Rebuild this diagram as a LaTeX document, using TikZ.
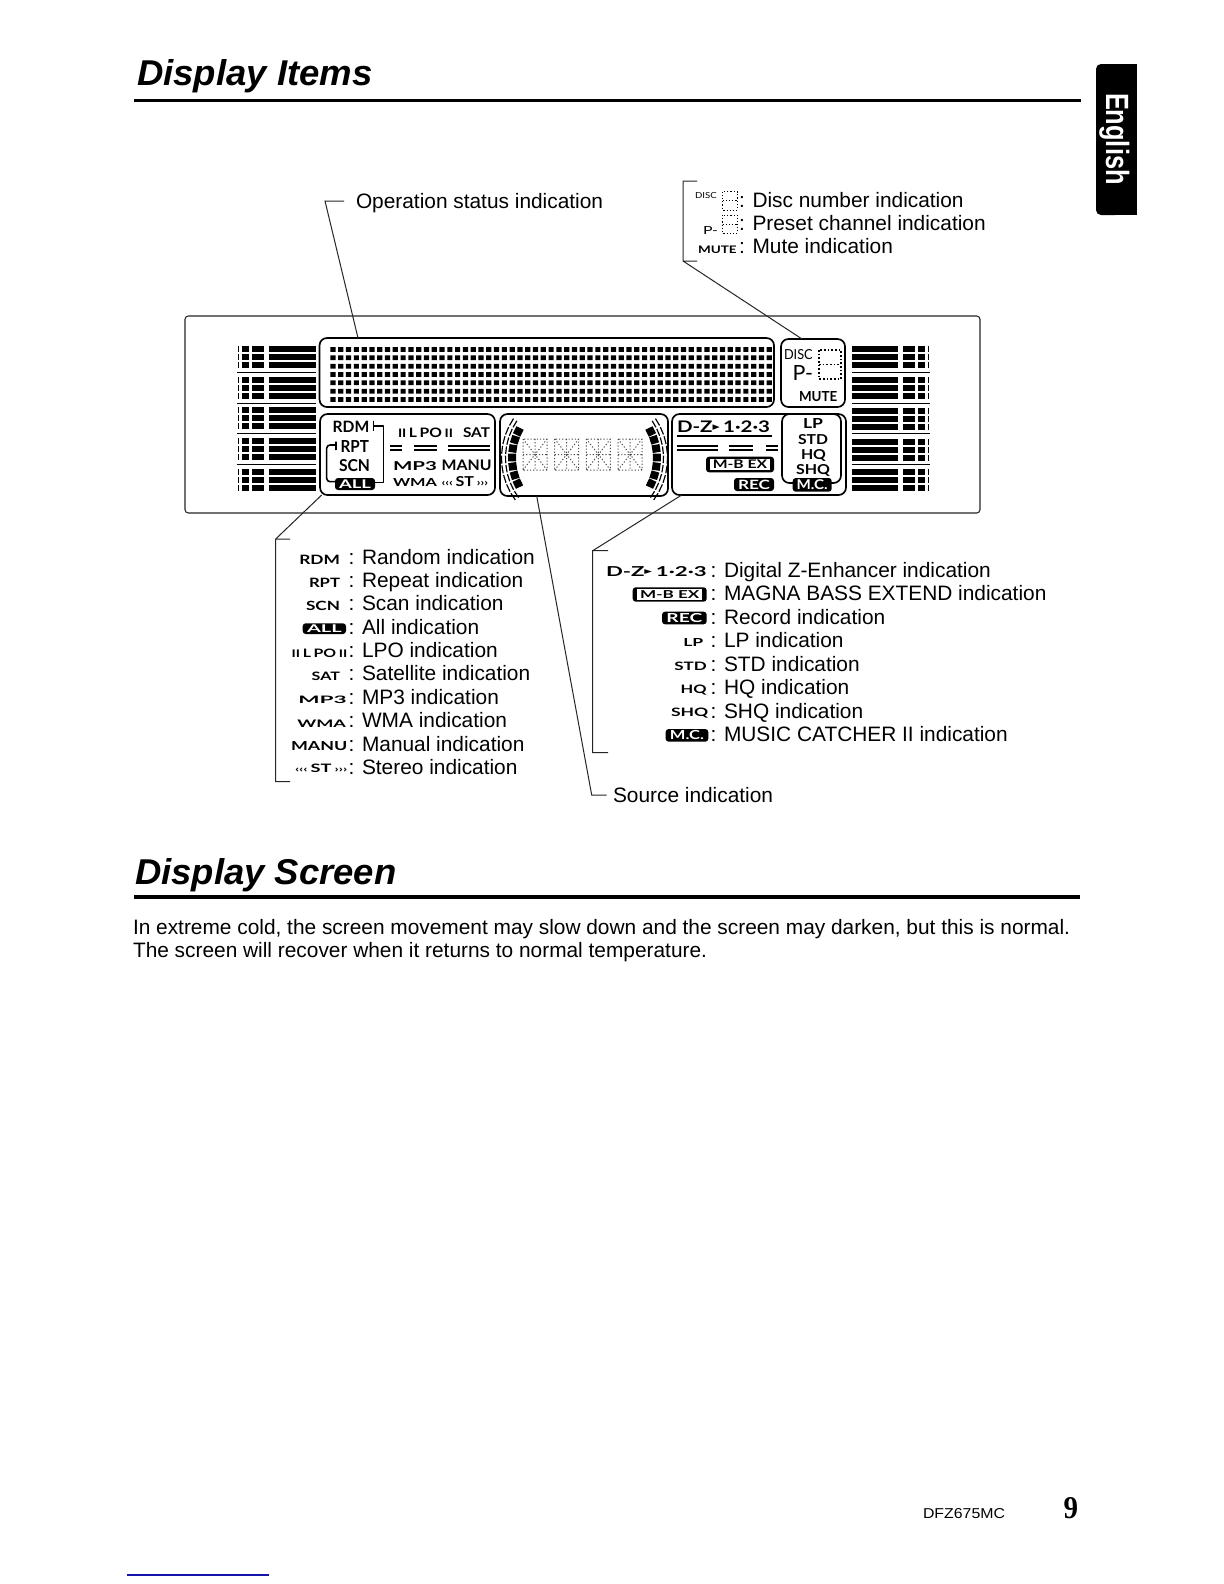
\documentclass[tikz,border=0pt]{standalone}
\usepackage{graphicx}
\usepackage{fontspec}
\setmainfont{Liberation Sans}
\newfontfamily\lcdfont{Lato}
\newfontfamily\dvfont{DejaVu Sans}
\newfontfamily\serfont{Liberation Serif}
\tikzset{
  lbl/.style={inner sep=0pt,outer sep=0pt,anchor=base west},
  body/.style={inner sep=0pt,outer sep=0pt,anchor=base west,font=\fontsize{12.52pt}{14pt}\selectfont},
  lcdbox/.style={draw=black,line width=1pt,rounded corners=4.5pt,inner sep=0pt,outer sep=0pt},
  panelbox/.style={draw=black!85,line width=0.65pt,rounded corners=2pt,inner sep=0pt,outer sep=0pt},
  leader/.style={draw=black!85,line width=0.6pt},
  pillbox/.style={fill=black,rounded corners=1.8pt,inner sep=0pt,outer sep=0pt,text=white},
  mbinner/.style={fill=white,inner sep=0pt,outer sep=0pt,text=black},
  dotseg/.style={draw=black,line width=1pt,dash pattern=on 1pt off 1.2pt},
  fineseg/.style={draw=black!70,line width=0.6pt,dash pattern=on 0.7pt off 1.2pt},
  thinbar/.style={draw=black,line width=0.7pt},
}
% name x1 x2 baseline height text
\newcommand\myLab[6]{%
  \pgfmathsetlengthmacro\labW{((#3)-(#2))*0.6}%
  \pgfmathsetlengthmacro\labH{(#5)*0.6}%
  \node[lbl] (#1) at (#2,#4) {\resizebox{\labW}{\labH}{#6}};}
% name x1 x2 y1 y2 text
\newcommand\myPill[6]{%
  \pgfmathsetlengthmacro\labW{((#3)-(#2))*0.6}%
  \pgfmathsetlengthmacro\labH{((#5)-(#4))*0.6}%
  \pgfmathsetlengthmacro\labTW{((#3)-(#2))*0.6*0.8}%
  \pgfmathsetlengthmacro\labTH{((#5)-(#4))*0.6*0.72}%
  \node[pillbox,minimum width=\labW,minimum height=\labH] (#1) at ({((#2)+(#3))/2},{((#4)+(#5))/2})
    {\resizebox{\labTW}{\labTH}{\lcdfont\bfseries #6}};}
% name x1 x2 y1 y2 text : black caps with white centre
\newcommand\myMB[6]{%
  \pgfmathsetlengthmacro\labW{((#3)-(#2))*0.6}%
  \pgfmathsetlengthmacro\labH{((#5)-(#4))*0.6}%
  \pgfmathsetlengthmacro\labIW{((#3)-(#2))*0.6*0.88}%
  \pgfmathsetlengthmacro\labIH{((#5)-(#4))*0.6*0.72}%
  \pgfmathsetlengthmacro\labTW{((#3)-(#2))*0.6*0.8}%
  \pgfmathsetlengthmacro\labTH{((#5)-(#4))*0.6*0.55}%
  \node[pillbox,minimum width=\labW,minimum height=\labH] (#1) at ({((#2)+(#3))/2},{((#4)+(#5))/2}) {};
  \node[mbinner,minimum width=\labIW,minimum height=\labIH] (#1i) at (#1.center)
    {\resizebox{\labTW}{\labTH}{\lcdfont\bfseries #6}};}
% name x1 x2 y1 y2
\newcommand\myBox[5]{%
  \pgfmathsetlengthmacro\labW{((#3)-(#2))*0.6}%
  \pgfmathsetlengthmacro\labH{((#5)-(#4))*0.6}%
  \node[lcdbox,minimum width=\labW,minimum height=\labH] (#1) at ({((#2)+(#3))/2},{((#4)+(#5))/2}) {};}
% x1 x2 y1 y2 : dotted seven-segment figure
\newcommand\mySeg[4]{%
  \pgfmathsetmacro\segM{((#3)+(#4))/2}%
  \draw[dotseg] (#1,#3) rectangle (#2,#4) (#1,\segM) -- (#2,\segM);}
\newcommand\myDouble[3]{%
  \draw[thinbar] (#1,#3) -- (#2,#3) (#1,#3+4) -- (#2,#3+4);}
\newcommand\myTri{\raisebox{1.6pt}{\dvfont\scriptsize ▸}}
\newcommand\myWavesL{{\footnotesize ‹‹‹}}
\newcommand\myWavesR{{\footnotesize ›››}}
\begin{document}
\begin{tikzpicture}[x=0.6pt,y=-0.6pt]
\useasboundingbox (0,0) rectangle (1224,1584);
\fill[white] (0,0) rectangle (1224,1584);

% headings
\myLab{titleA}{137}{372.5}{85}{26}{\bfseries\itshape Display Items}
\coordinate (ruleAl) at (134,100.5);
\coordinate (ruleAr) at (1081,100.5);
\draw[line width=2.3pt] (ruleAl) -- (ruleAr);
\myLab{titleB}{135}{396.5}{884}{26}{\bfseries\itshape Display Screen}
\coordinate (ruleBl) at (134,897);
\coordinate (ruleBr) at (1080,897);
\draw[line width=2.3pt] (ruleBl) -- (ruleBr);

% language tab
\fill[black,rounded corners=3pt] (1096,64) rectangle (1120,215);
\fill[black] (1110,64) rectangle (1137,215);
\node[lbl,rotate=-90,text=white] (tab) at (1106,93) {\resizebox{55pt}{14pt}{\bfseries English}};

% display panel
\pgfmathsetlengthmacro\panelW{795*0.6}
\pgfmathsetlengthmacro\panelH{197*0.6}
\node[panelbox,minimum width=\panelW,minimum height=\panelH] (panel) at (582.5,414.5) {};
\myBox{dotbox}{319.5}{774}{338}{407}
\myBox{discbox}{781}{845}{339}{407}
\myBox{leftbox}{320}{495}{414}{495}
\myBox{midbox}{500}{668}{414}{496}
\myBox{rightbox}{672}{846}{414}{495}
\myBox{lpbox}{782}{841}{414}{483}

% dot matrix
\fill[black] foreach \r in {0,...,6} { foreach \c in {0,...,56} {
  ({333+\c*7.79-2.6},{349.5+\r*8.33-2.4}) rectangle ++(5.2,4.8) } };

% level bars
\foreach \ya/\yb/\yc in {348.7/356.7/364.7, 379.7/387.7/395.7, 410.3/418.3/426.3, 441/449/457, 471.7/480/487.7}{
  \foreach \yy in {\ya,\yb,\yc}{
    \fill (237.5,\yy-3) rectangle (239,\yy+3);
    \fill (242,\yy-3) rectangle (248.5,\yy+3);
    \fill (251.7,\yy-3) rectangle (264,\yy+3);
    \fill (269.3,\yy-3) rectangle (315.7,\yy+3);
  }}
\foreach \ya/\yb/\yc in {349/357/365, 380/388/396, 411/419/427, 441.7/449.7/457.7, 472.3/480.3/488.3}{
  \foreach \yy in {\ya,\yb,\yc}{
    \fill (851.7,\yy-3) rectangle (897.7,\yy+3);
    \fill (902.7,\yy-3) rectangle (915,\yy+3);
    \fill (918.3,\yy-3) rectangle (925,\yy+3);
    \fill (927.7,\yy-3) rectangle (929.3,\yy+3);
  }}
\foreach \yy in {372.3,403,433.7,464.3}{
  \draw[line width=0.6pt] (237,\yy) -- (316,\yy);
  \draw[line width=0.6pt] (851.7,\yy) -- (929.5,\yy);}

% left LCD section
\myLab{dRDM}{332.7}{369.3}{432}{11.3}{\lcdfont\bfseries RDM}
\myLab{dRPT}{340.7}{369}{452.7}{12}{\lcdfont\bfseries RPT}
\myLab{dSCN}{339}{370}{471.7}{12}{\lcdfont\bfseries SCN}
\myPill{dALL}{335}{375}{478}{490}{ALL}
\draw[line width=0.95pt,line join=round] (373.3,420.5) -- (373.3,431) (373.3,426) -- (383.3,426) -- (383.3,482.7) -- (375,482.7);
\draw[line width=0.95pt,rounded corners=2pt] (336,441.7) -- (336,450) (336,445) -- (326.7,445) -- (326.7,481.7) -- (335,481.7);
\myLab{dLPO}{398}{453}{437.7}{9.5}{\lcdfont\bfseries {\small II}\,L\,PO\,{\small II}}
\myLab{dSAT}{463}{490}{437.7}{9.8}{\lcdfont\bfseries SAT}
\myDouble{390}{401.7}{446}
\myDouble{414}{437}{446}
\myDouble{448}{490}{446}
\myLab{dMP3}{393}{437}{470}{9}{\lcdfont\bfseries MP3}
\myLab{dMANU}{441.7}{491.7}{470}{10.5}{\lcdfont\bfseries MANU}
\myLab{dWMA}{393}{437}{486.7}{8}{\lcdfont\bfseries WMA}
\myLab{dST}{441.7}{488}{486.7}{10}{\lcdfont\bfseries \myWavesL\,ST\,\myWavesR}

% centre LCD section
\foreach \i in {0,1,2,3}{
  \pgfmathsetmacro\xa{523+\i*31.7}
  \pgfmathsetmacro\xb{\xa+24}
  \pgfmathsetmacro\xm{\xa+12}
  \draw[fineseg] (\xa,439) rectangle (\xb,470)
    (\xa,454.5) -- (\xb,454.5) (\xm,439) -- (\xm,470)
    (\xa,439) -- (\xb,470) (\xb,439) -- (\xa,470);
}
\foreach \sgn/\cx in {-1/572, 1/597}{
  \foreach \a in {-30,-21.4,-12.8,-4.2,4.4,13,21.6}{
    \pgfmathsetmacro\aend{\a+7.4}
    \draw[line width=4.8pt] ({\cx+\sgn*60*cos(\a)},{458+60*sin(\a)}) -- ({\cx+\sgn*60*cos(\aend)},{458+60*sin(\aend)});
  }
  \foreach \rr in {66.5,70.5}{
    \foreach \a in {-34,-26,-18,-10,-2,6,14,22,30}{
      \pgfmathsetmacro\aend{\a+6.5}
      \draw[line width=0.7pt] ({\cx+\sgn*\rr*cos(\a)},{458+\rr*sin(\a)}) -- ({\cx+\sgn*\rr*cos(\aend)},{458+\rr*sin(\aend)});
    }
  }
}

% right LCD section
\myLab{dDZ}{677}{770}{432.7}{11.7}{\lcdfont\bfseries D-Z\myTri\,1·2·3}
\coordinate (dzul) at (677,436);
\coordinate (dzur) at (772,436);
\draw[line width=0.7pt] (dzul) -- (dzur);
\myDouble{676.7}{718}{446}
\myDouble{729}{753}{446}
\myDouble{766}{778}{446}
\myMB{dMB}{706}{774}{456.7}{472.3}{M-B EX}
\myPill{dREC}{734}{774}{478}{491}{REC}
\myPill{dMC}{792.7}{831.7}{478}{491.7}{M.C.}
\myLab{dLP}{803}{823}{428.5}{10}{\lcdfont\bfseries LP}
\myLab{dSTD}{798}{828}{444.5}{10}{\lcdfont\bfseries STD}
\myLab{dHQ}{801}{826}{459.5}{10}{\lcdfont\bfseries HQ}
\myLab{dSHQ}{796}{830}{474.5}{10}{\lcdfont\bfseries SHQ}

% disc section
\myLab{dDISC}{784}{812.7}{359.3}{10}{\lcdfont DISC}
\myLab{dP}{792.7}{813}{380}{15}{\lcdfont P-}
\mySeg{819}{841}{350}{379}
\myLab{dMUTE}{799}{837.3}{401.7}{10}{\lcdfont\bfseries MUTE}

% legend: top centre and right
\node[body] (opText) at (356,208.2) {Operation status indication};
\myLab{gDISC}{695}{716.7}{198}{6}{\lcdfont DISC}
\draw[fineseg,draw=black] (722.7,191.7) rectangle (737.3,210) (722.7,200.8) -- (737.3,200.8);
\node[body] (tDisc) at (739,207.5) {: Disc number indication};
\myLab{gP}{703}{718}{234}{8}{\lcdfont P-}
\draw[fineseg,draw=black] (722.7,215) rectangle (737.3,233.3) (722.7,224.2) -- (737.3,224.2);
\node[body] (tPreset) at (739,230) {: Preset channel indication};
\myLab{gMUTE}{698}{736.7}{253.3}{7.5}{\lcdfont\bfseries MUTE}
\node[body] (tMute) at (739,253.3) {: Mute indication};

% legend: left list
\myLab{lRDM}{299.3}{340}{564.3}{9.3}{\lcdfont\bfseries RDM}
\node[body] (tRDM) at (348.5,564.5) {: Random indication};
\myLab{lRPT}{309}{340}{587.3}{9.3}{\lcdfont\bfseries RPT}
\node[body] (tRPT) at (348.5,587.5) {: Repeat indication};
\myLab{lSCN}{306}{340}{610.7}{9.3}{\lcdfont\bfseries SCN}
\node[body] (tSCN) at (348.5,610.5) {: Scan indication};
\myPill{lALL}{302.7}{346}{623.3}{634}{ALL}
\node[body] (tALL) at (348.5,634) {: All indication};
\myLab{lLPO}{291.7}{347.3}{657}{8.5}{\lcdfont\bfseries {\small II}\,L\,PO\,{\small II}}
\node[body] (tLPO) at (348.5,657) {: LPO indication};
\myLab{lSAT}{311.7}{340}{680.7}{8.5}{\lcdfont\bfseries SAT}
\node[body] (tSAT) at (348.5,680.5) {: Satellite indication};
\myLab{lMP3}{298.3}{346.7}{703.3}{7.5}{\lcdfont\bfseries MP3}
\node[body] (tMP3) at (348.5,704) {: MP3 indication};
\myLab{lWMA}{297.3}{346}{727.3}{7.5}{\lcdfont\bfseries WMA}
\node[body] (tWMA) at (348.5,727.5) {: WMA indication};
\myLab{lMANU}{291}{347.3}{750.7}{9}{\lcdfont\bfseries MANU}
\node[body] (tMANU) at (348.5,751) {: Manual indication};
\myLab{lST}{295}{347.3}{772.3}{8.5}{\lcdfont\bfseries \myWavesL\,ST\,\myWavesR}
\node[body] (tST) at (348.5,774.5) {: Stereo indication};

% legend: right list
\myLab{rDZ}{606}{706.7}{576.7}{10}{\lcdfont\bfseries D-Z\myTri\,1·2·3}
\node[body] (tDZ) at (710.5,577.5) {: Digital Z-Enhancer indication};
\myMB{rMB}{632.7}{706.7}{587.3}{601.7}{M-B EX}
\node[body] (tMB) at (710.5,600.8) {: MAGNA BASS EXTEND indication};
\myPill{rREC}{662}{706.7}{611.7}{624.3}{REC}
\node[body] (tREC) at (710.5,624) {: Record indication};
\myLab{rLP}{683.3}{703.3}{646}{8}{\lcdfont\bfseries LP}
\node[body] (tLP) at (710.5,647.8) {: LP indication};
\myLab{rSTD}{674.3}{706.7}{670}{8.5}{\lcdfont\bfseries STD}
\node[body] (tSTD) at (710.5,671.2) {: STD indication};
\myLab{rHQ}{680.7}{706.7}{693.3}{8.5}{\lcdfont\bfseries HQ}
\node[body] (tHQ) at (710.5,694.6) {: HQ indication};
\myLab{rSHQ}{671}{708.3}{716}{8.5}{\lcdfont\bfseries SHQ}
\node[body] (tSHQ) at (710.5,718) {: SHQ indication};
\myPill{rMC}{665.7}{708.3}{729}{741.7}{M.C.}
\node[body] (tMC) at (710.5,741.3) {: MUSIC CATCHER II indication};
\node[body] (tSource) at (613,802.7) {Source indication};

% leaders
\coordinate (opTick) at (344,201);
\coordinate (opCorner) at (325,201);
\coordinate (opEnd) at (358,338);
\draw[leader] (opTick) -- (opCorner) -- (opEnd |- dotbox.north);

\coordinate (dTopTick) at (697,181);
\coordinate (dTop) at (683,181);
\coordinate (dBot) at (683,261);
\coordinate (dBotTick) at (697,261);
\coordinate (dEnd) at (802,337);
\draw[leader] (dTopTick) -- (dTop) -- (dBot) -- (dBotTick) (dBot) -- (dEnd |- discbox.north);

\coordinate (lTopTick) at (290,539);
\coordinate (lTop) at (275.7,539);
\coordinate (lBot) at (275.7,781.7);
\coordinate (lBotTick) at (290,781.7);
\coordinate (lEnd) at (321.7,496);
\draw[leader] (lTopTick) -- (lTop) -- (lBot) -- (lBotTick) (lTop) -- (lEnd |- leftbox.south);

\coordinate (sEnd) at (536.7,496);
\coordinate (sCorner) at (591.7,795);
\coordinate (sTick) at (606.7,795);
\draw[leader] (sEnd |- midbox.south) -- (sCorner) -- (sTick);

\coordinate (rTopTick) at (608,550.7);
\coordinate (rTop) at (592.7,550.7);
\coordinate (rBot) at (592.7,752.7);
\coordinate (rBotTick) at (608,752.7);
\coordinate (rEnd) at (681.7,496);
\draw[leader] (rTopTick) -- (rTop) -- (rBot) -- (rBotTick) (rTop) -- (rEnd |- rightbox.south);

% screen paragraph
\node[body] (paraA) at (133,934) {In extreme cold, the screen movement may slow down and the screen may darken, but this is normal.};
\node[body] (paraB) at (133,957.5) {The screen will recover when it returns to normal temperature.};

% footer
\myLab{model}{923}{1005}{1518}{10}{DFZ675MC}
\myLab{pageno}{1063.5}{1078}{1518}{21}{\serfont\bfseries 9}
\coordinate (blueA) at (127,1575);
\coordinate (blueB) at (269,1575);
\draw[draw={rgb,255:red,20;green,20;blue,170},line width=0.9pt] (blueA) -- (blueB);
\end{tikzpicture}
\end{document}
